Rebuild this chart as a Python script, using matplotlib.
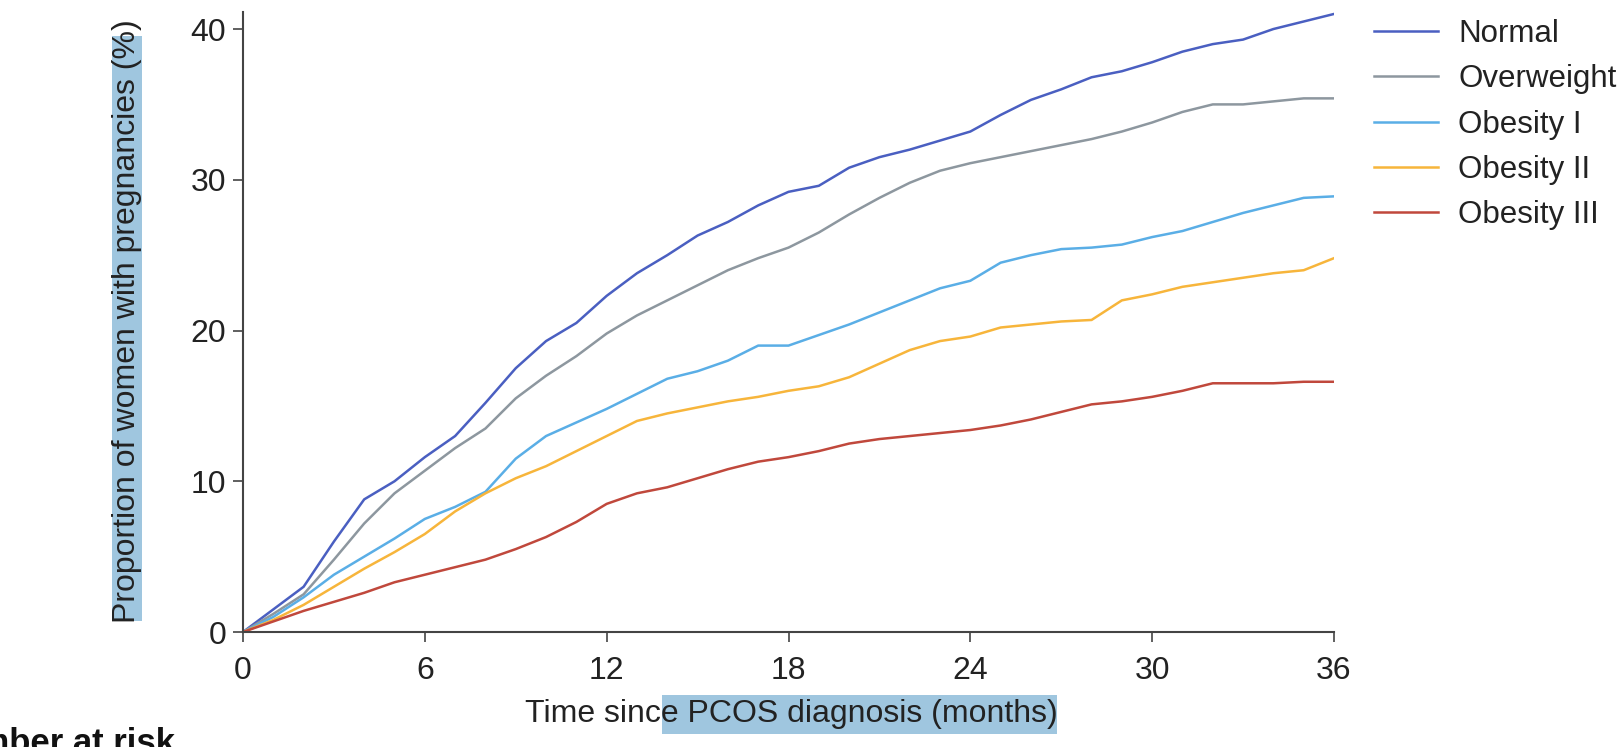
import matplotlib
matplotlib.use("Agg")
import matplotlib.pyplot as plt
from matplotlib.patches import Rectangle

plt.rcParams['font.family'] = ['Liberation Sans', 'DejaVu Sans']

months = list(range(0, 37))

normal = [0, 1.5, 3.0, 6.0, 8.8, 10.0, 11.6, 13.0, 15.2, 17.5, 19.3, 20.5, 22.3, 23.8, 25.0,
          26.3, 27.2, 28.3, 29.2, 29.6, 30.8, 31.5, 32.0, 32.6, 33.2, 34.3, 35.3, 36.0,
          36.8, 37.2, 37.8, 38.5, 39.0, 39.3, 40.0, 40.5, 41.0]
overweight = [0, 1.2, 2.5, 4.8, 7.2, 9.2, 10.7, 12.2, 13.5, 15.5, 17.0, 18.3, 19.8, 21.0,
              22.0, 23.0, 24.0, 24.8, 25.5, 26.5, 27.7, 28.8, 29.8, 30.6, 31.1, 31.5, 31.9,
              32.3, 32.7, 33.2, 33.8, 34.5, 35.0, 35.0, 35.2, 35.4, 35.4]
obesity1 = [0, 1.0, 2.3, 3.8, 5.0, 6.2, 7.5, 8.3, 9.3, 11.5, 13.0, 13.9, 14.8, 15.8, 16.8,
            17.3, 18.0, 19.0, 19.0, 19.7, 20.4, 21.2, 22.0, 22.8, 23.3, 24.5, 25.0, 25.4,
            25.5, 25.7, 26.2, 26.6, 27.2, 27.8, 28.3, 28.8, 28.9]
obesity2 = [0, 0.8, 1.8, 3.0, 4.2, 5.3, 6.5, 8.0, 9.2, 10.2, 11.0, 12.0, 13.0, 14.0, 14.5,
            14.9, 15.3, 15.6, 16.0, 16.3, 16.9, 17.8, 18.7, 19.3, 19.6, 20.2, 20.4, 20.6,
            20.7, 22.0, 22.4, 22.9, 23.2, 23.5, 23.8, 24.0, 24.8]
obesity3 = [0, 0.7, 1.4, 2.0, 2.6, 3.3, 3.8, 4.3, 4.8, 5.5, 6.3, 7.3, 8.5, 9.2, 9.6, 10.2,
            10.8, 11.3, 11.6, 12.0, 12.5, 12.8, 13.0, 13.2, 13.4, 13.7, 14.1, 14.6, 15.1,
            15.3, 15.6, 16.0, 16.5, 16.5, 16.5, 16.6, 16.6]

series_names = ["Normal", "Overweight", "Obesity I", "Obesity II", "Obesity III"]
series_values = [normal, overweight, obesity1, obesity2, obesity3]
series_colors = ["#4a5fc1", "#8d979f", "#5aaee6", "#f7b53b", "#c0483c"]

x_ticks = [0, 6, 12, 18, 24, 30, 36]
y_ticks = [0, 10, 20, 30, 40]

W, H = 1622, 747
FS = 23
fig = plt.figure(figsize=(W / 100, H / 100), dpi=100, facecolor="white")
ax = fig.add_axes([243 / W, 1 - 632 / H, (1334 - 243) / W, (632 - 12) / H])

for name, vals, col in zip(series_names, series_values, series_colors):
    ax.plot(months, vals, color=col, lw=1.8, label=name)

ax.set_xlim(0, 36)
ax.set_ylim(0, 41.13)
ax.set_xticks(x_ticks)
ax.set_yticks(y_ticks)
for s in ["top", "right"]:
    ax.spines[s].set_visible(False)
for s in ["left", "bottom"]:
    ax.spines[s].set_color("#444444")
    ax.spines[s].set_linewidth(1.5)
ax.tick_params(direction="out", length=7, width=1.2, color="#444444",
               labelsize=FS, labelcolor="#222222", pad=5)
ax.tick_params(axis="x", pad=10)

hl = "#9fc6df"
fig.add_artist(Rectangle((112 / W, 1 - 621 / H), 30 / W, 585 / H, transform=fig.transFigure,
                         facecolor=hl, edgecolor="none", zorder=-1))
fig.add_artist(Rectangle((662 / W, 1 - 734 / H), 395 / W, 39 / H, transform=fig.transFigure,
                         facecolor=hl, edgecolor="none", zorder=-1))

fig.text(791 / W, 1 - 714 / H, "Time since PCOS diagnosis (months)", fontsize=FS,
         color="#222222", ha="center", va="center")
fig.text(127 / W, 1 - 321 / H, "Proportion of women with pregnancies (%)", fontsize=FS,
         color="#222222", ha="center", va="center", rotation=90)

leg = ax.legend(loc="upper left", bbox_to_anchor=(1374 / W, 1 - 19 / H),
                bbox_transform=fig.transFigure, frameon=False, fontsize=22.5,
                handlelength=2.05, handletextpad=0.65, labelspacing=0.49, borderpad=0,
                borderaxespad=0)
for t in leg.get_texts():
    t.set_color("#222222")

fig.text(175 / W, 1 - 753 / H, "Number at risk", fontsize=25, fontweight="bold",
         ha="right", va="baseline", color="#111111")

fig.savefig("out.png", dpi=100, facecolor="white")
